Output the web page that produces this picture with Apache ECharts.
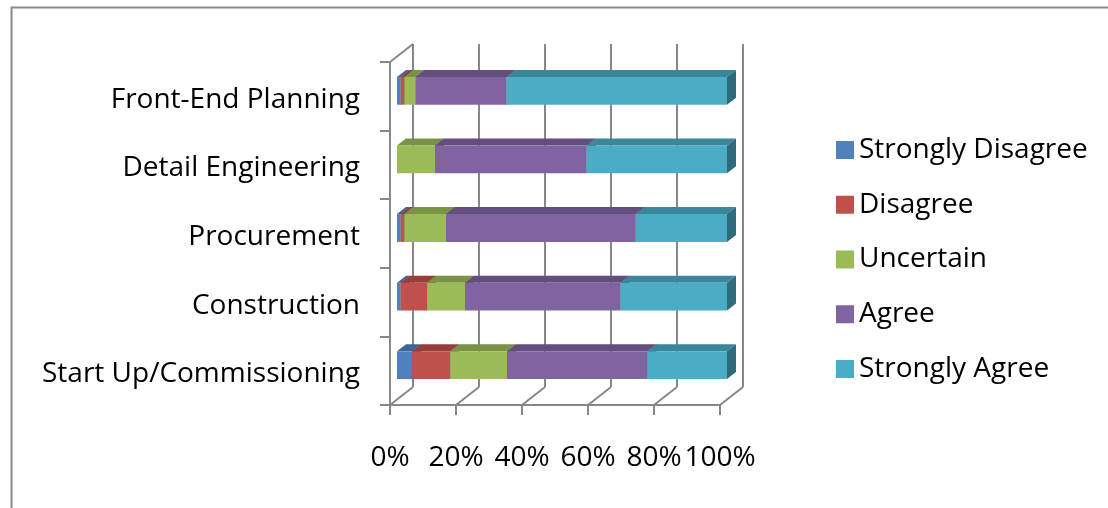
<!DOCTYPE html>
<html>
<head>
<meta charset="utf-8">
<script src="https://cdn.jsdelivr.net/npm/echarts@6/dist/echarts.min.js"></script>
<style>
  html, body { margin: 0; padding: 0; background: #ffffff; }
  #chart { width: 1108px; height: 508px; }
</style>
</head>
<body>
<div id="chart"></div>
<script>
// Project phases, bottom to top
const categories = ['Start Up/Commissioning', 'Construction', 'Procurement', 'Detail Engineering', 'Front-End Planning'];
const responseNames = ['Strongly Disagree', 'Disagree', 'Uncertain', 'Agree', 'Strongly Agree'];

// Share of responses (%) per phase, same order as categories
const stronglyDisagree = [4.6, 1.1, 1.1, 0, 1.1];
const disagree         = [11.5, 8.0, 1.1, 0, 1.1];
const uncertain        = [17.2, 11.5, 12.6, 11.5, 3.4];
const agree            = [42.5, 47.1, 57.5, 46.0, 27.6];
const stronglyAgree    = [24.1, 32.2, 27.6, 42.5, 66.7];

const percentTicks = [0, 20, 40, 60, 80, 100];

const responseValues = [stronglyDisagree, disagree, uncertain, agree, stronglyAgree];
const faceColors = ['#4F81BD', '#C0504D', '#9BBB59', '#8064A2', '#4BACC6'];

const FONT = '"Open Sans", sans-serif';
const LINE = '#878787';

// 3D look: wall depth and bar depth (pixels)
const WALL_DX = 23, WALL_DY = -18;
const BAR_FX = 7, BAR_FY = -5.5;     // front face offset inside the box
const BAR_DX = 9, BAR_DY = -7;       // bar depth
const BAR_RATIO = 0.405;

function shade(hex, k) {
  const n = parseInt(hex.slice(1), 16);
  const r = Math.round(((n >> 16) & 255) * k);
  const g = Math.round(((n >> 8) & 255) * k);
  const b = Math.round((n & 255) * k);
  return 'rgb(' + r + ',' + g + ',' + b + ')';
}

// 100% stacking: start / end of each segment
const totals = categories.map((_, i) => responseValues.reduce((s, arr) => s + arr[i], 0));
const stacked = responseValues.map(() => []);
categories.forEach((_, i) => {
  let acc = 0;
  responseValues.forEach((arr, k) => {
    const start = acc / totals[i] * 100;
    acc += arr[i];
    const end = acc / totals[i] * 100;
    stacked[k].push([i, start, end, arr[i]]);
  });
});

function renderBar(color) {
  return function (params, api) {
    const cat = api.value(0);
    const p0 = api.coord([api.value(1), cat]);
    const p1 = api.coord([api.value(2), cat]);
    const w = p1[0] - p0[0];
    if (w <= 0.01) return null;
    const band = api.size([0, 1])[1];
    const h = band * BAR_RATIO;
    const x = p0[0] + BAR_FX;
    const y = p0[1] + BAR_FY - h / 2;
    return {
      type: 'group',
      children: [
        {
          type: 'polygon',
          shape: { points: [[x, y], [x + BAR_DX, y + BAR_DY], [x + w + BAR_DX, y + BAR_DY], [x + w, y]] },
          style: { fill: shade(color, 0.78) }
        },
        {
          type: 'polygon',
          shape: { points: [[x + w, y], [x + w + BAR_DX, y + BAR_DY], [x + w + BAR_DX, y + h + BAR_DY], [x + w, y + h]] },
          style: { fill: shade(color, 0.62) }
        },
        {
          type: 'rect',
          shape: { x: x, y: y, width: w, height: h },
          style: { fill: color }
        }
      ]
    };
  };
}

// Back wall gridlines, floor edges and the left wall's top edge
function renderWalls(params, api) {
  const cs = params.coordSys;
  const v = api.value(0);
  const x = api.coord([v, 0])[0];
  const top = cs.y, bottom = cs.y + cs.height;
  const st = { stroke: LINE, lineWidth: 2 };
  const children = [
    { type: 'line', shape: { x1: x + WALL_DX, y1: top + WALL_DY, x2: x + WALL_DX, y2: bottom + WALL_DY }, style: st },
    { type: 'line', shape: { x1: x, y1: bottom, x2: x + WALL_DX, y2: bottom + WALL_DY }, style: st }
  ];
  if (v === percentTicks[0]) {
    children.push({ type: 'line', shape: { x1: x, y1: top, x2: x + WALL_DX, y2: top + WALL_DY }, style: st });
  }
  return { type: 'group', children: children };
}

const series = [{
  type: 'custom',
  name: 'walls',
  z: 1,
  silent: true,
  renderItem: renderWalls,
  encode: { x: 0, y: 1 },
  data: percentTicks.map(v => [v, 0])
}];

responseNames.forEach((name, k) => {
  series.push({
    type: 'custom',
    name: name,
    z: 2,
    itemStyle: { color: faceColors[k] },
    renderItem: renderBar(faceColors[k]),
    encode: { x: [1, 2], y: 0 },
    data: stacked[k]
  });
});

const chart = echarts.init(document.getElementById('chart'), null, { renderer: 'canvas' });
chart.setOption({
  animation: false,
  backgroundColor: '#ffffff',
  textStyle: { fontFamily: FONT },
  graphic: [{
    type: 'rect',
    left: 9, top: 5,
    shape: { width: 1200, height: 600 },
    style: { fill: 'none', stroke: '#898989', lineWidth: 2 },
    silent: true
  }],
  grid: { left: 390, top: 62, width: 330, height: 343, containLabel: false },
  legend: {
    orient: 'vertical',
    left: 831,
    top: 130,
    itemWidth: 18,
    itemHeight: 18,
    itemGap: 24.75,
    icon: 'rect',
    data: responseNames,
    textStyle: { fontFamily: FONT, fontSize: 28, lineHeight: 30, color: '#000' }
  },
  xAxis: {
    type: 'value',
    min: 0, max: 100, interval: 20,
    axisLine: { show: true, lineStyle: { color: LINE, width: 2 } },
    axisTick: { show: true, length: 10, lineStyle: { color: LINE, width: 2 } },
    splitLine: { show: false },
    axisLabel: { formatter: '{value}%', fontFamily: FONT, fontSize: 28, color: '#000', margin: 39 }
  },
  yAxis: {
    type: 'category',
    data: categories,
    axisLine: { show: true, lineStyle: { color: LINE, width: 2 } },
    axisTick: { show: true, length: 10, lineStyle: { color: LINE, width: 2 } },
    splitLine: { show: false },
    axisLabel: {
      margin: 30,
      formatter: '{c|{value}}',
      rich: { c: { fontFamily: FONT, fontSize: 28, color: '#000', padding: [7, 0, 0, 0] } }
    }
  },
  series: series
});
</script>
</body>
</html>
